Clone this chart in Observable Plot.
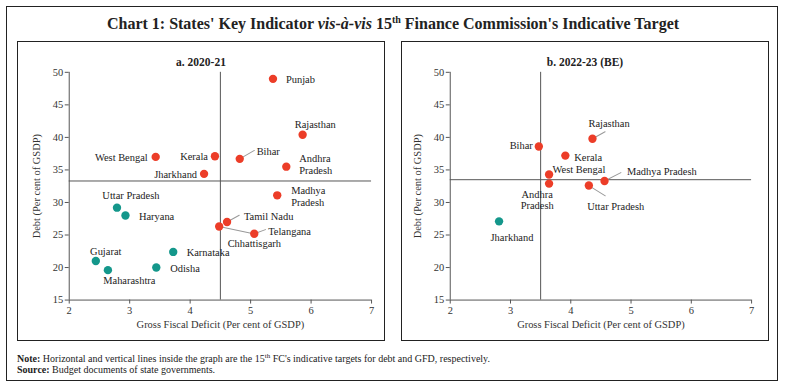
<!DOCTYPE html>
<html>
<head>
<meta charset="utf-8">
<script src="https://cdn.jsdelivr.net/npm/d3@7"></script>
<script src="https://cdn.jsdelivr.net/npm/@observablehq/plot@0.6"></script>
<style>
  html, body { margin: 0; padding: 0; background: #fff; }
  #wrap { position: relative; width: 786px; height: 389px; background: #fff; font-family: "Liberation Serif", "DejaVu Serif", serif; color: #222; overflow: hidden; }
  .outer { position: absolute; left: 6px; top: 6px; width: 770px; height: 373px; border: 1.3px solid #222; }
  .title { position: absolute; left: 0; width: 786px; top: 14px; text-align: center; font-size: 16px; font-weight: bold; color: #222; }
  .title sup { font-size: 10px; }
  .panel { position: absolute; top: 41px; width: 368px; height: 300px; box-sizing: border-box; border: 1.2px solid #222; }
  .panel svg { position: absolute; left: -1px; top: -1px; }
  .ptitle { position: absolute; left: 0; width: 100%; top: 14px; text-align: center; font-size: 11.5px; font-weight: bold; }
  .note { position: absolute; left: 17px; font-size: 10px; color: #222; }
  .note sup { font-size: 7px; }
</style>
</head>
<body>
<div id="wrap">
  <div class="outer"></div>
  <div class="title">Chart 1: States' Key Indicator <i>vis-à-vis</i> 15<sup>th</sup> Finance Commission's Indicative Target</div>
  <div class="panel" id="pa" style="left:17px"><div class="ptitle">a. 2020-21</div></div>
  <div class="panel" id="pb" style="left:401px"><div class="ptitle">b. 2022-23 (BE)</div></div>
  <div class="note" style="top:351.5px"><b>Note:</b> Horizontal and vertical lines inside the graph are the 15<sup>th</sup> FC's indicative targets for debt and GFD, respectively.</div>
  <div class="note" style="top:363.5px"><b>Source:</b> Budget documents of state governments.</div>
</div>
<script>
// ---------- DATA ----------
const statesA = ["Punjab","Rajasthan","Bihar","Andhra Pradesh","Kerala","West Bengal","Jharkhand","Madhya Pradesh","Uttar Pradesh","Haryana","Tamil Nadu","Chhattisgarh","Telangana","Gujarat","Maharashtra","Odisha","Karnataka"];
const gfdA    = [5.37, 5.86, 4.82, 5.59, 4.41, 3.43, 4.23, 5.44, 2.79, 2.93, 4.61, 4.48, 5.06, 2.44, 2.64, 3.44, 3.72];
const debtA   = [49.0, 40.4, 36.7, 35.5, 37.1, 37.0, 34.4, 31.1, 29.2, 28.0, 27.0, 26.3, 25.2, 21.0, 19.6, 20.0, 22.4];
const statusA = ["above","above","above","above","above","above","above","above","below","below","above","above","above","below","below","below","below"];

const statesB = ["Rajasthan","Bihar","Kerala","West Bengal","Andhra Pradesh","Madhya Pradesh","Uttar Pradesh","Jharkhand"];
const gfdB    = [4.36, 3.47, 3.91, 3.64, 3.64, 4.56, 4.30, 2.81];
const debtB   = [39.8, 38.6, 37.2, 34.3, 32.9, 33.3, 32.6, 27.1];
const statusB = ["above","above","above","above","above","above","above","below"];

const targetGfdA = 4.5,  targetDebtA = 33.3;
const targetGfdB = 3.5,  targetDebtB = 33.5;

const xTicks = [2, 3, 4, 5, 6, 7];
const yTicks = [15, 20, 25, 30, 35, 40, 45, 50];
const xLabel = "Gross Fiscal Deficit (Per cent of GSDP)";
const yLabel = "Debt (Per cent of GSDP)";

// ---------- LAYOUT (label placement, px) ----------
const labelsA = [
  {state:"Punjab", dx:13, dy:0, anchor:"start"},
  {state:"Rajasthan", dx:-8, dy:-11, anchor:"start"},
  {state:"Bihar", dx:17, dy:-8, anchor:"start"},
  {state:"Andhra Pradesh", text:"Andhra\nPradesh", dx:13, dy:-2.5, anchor:"start"},
  {state:"Kerala", dx:-7, dy:0.5, anchor:"end"},
  {state:"West Bengal", dx:-8, dy:0.5, anchor:"end"},
  {state:"Jharkhand", dx:-7, dy:0.5, anchor:"end"},
  {state:"Madhya Pradesh", text:"Madhya\nPradesh", dx:14, dy:1, anchor:"start"},
  {state:"Uttar Pradesh", dx:14, dy:-12.5, anchor:"middle"},
  {state:"Haryana", dx:13.5, dy:0.5, anchor:"start"},
  {state:"Tamil Nadu", dx:17, dy:-5.5, anchor:"start"},
  {state:"Chhattisgarh", dx:8.5, dy:16.5, anchor:"start"},
  {state:"Telangana", dx:14, dy:-2.5, anchor:"start"},
  {state:"Gujarat", dx:10, dy:-10, anchor:"middle"},
  {state:"Maharashtra", dx:21.5, dy:10, anchor:"middle"},
  {state:"Odisha", dx:14, dy:0.5, anchor:"start"},
  {state:"Karnataka", dx:13.5, dy:0.5, anchor:"start"}
];
const leadersA = [
  {state:"Bihar", length:17, rotate:60},
  {state:"Tamil Nadu", length:14, rotate:61},
  {state:"Telangana", length:12, rotate:70},
  {state:"Chhattisgarh", length:34, rotate:102}
];
const labelsB = [
  {state:"Rajasthan", dx:-4, dy:-15.5, anchor:"start"},
  {state:"Bihar", dx:-6, dy:-1.5, anchor:"end"},
  {state:"Kerala", dx:9, dy:2, anchor:"start"},
  {state:"West Bengal", dx:3.5, dy:-5, anchor:"start"},
  {state:"Andhra Pradesh", text:"Andhra\nPradesh", dx:-12, dy:16.5, anchor:"middle"},
  {state:"Madhya Pradesh", dx:22.5, dy:-9.5, anchor:"start"},
  {state:"Uttar Pradesh", dx:27, dy:20.5, anchor:"middle"},
  {state:"Jharkhand", dx:13, dy:16.5, anchor:"middle"}
];
const leadersB = [
  {state:"Rajasthan", length:14.5, rotate:61},
  {state:"Madhya Pradesh", length:18.5, rotate:63},
  {state:"Uttar Pradesh", length:19.5, rotate:122}
];

const colors = {domain:["above","below"], range:["#ec3d28","#14978b"]};
const lineShape = { draw(context, l) { context.moveTo(0, 0); context.lineTo(0, -l); } };

function build(states, gfd, debt, status, tg, td, labels, leaders, mL, mR) {
  const data = states.map((s, i) => ({state: s, gfd: gfd[i], debt: debt[i], status: status[i]}));
  const find = s => data.filter(d => d.state === s);
  return Plot.plot({
    width: 368, height: 300,
    marginLeft: mL, marginRight: mR, marginTop: 31, marginBottom: 40,
    style: {fontFamily: "Liberation Serif, serif", fontSize: "10.5px", color: "#333", background: "transparent"},
    x: {domain: [2, 7]},
    y: {domain: [15, 50]},
    color: colors,
    marks: [
      Plot.ruleX([tg], {stroke: "#555", strokeWidth: 1}),
      Plot.ruleY([td], {stroke: "#555", strokeWidth: 1}),
      Plot.ruleY([15], {stroke: "#555"}),
      Plot.ruleX([2], {stroke: "#555"}),
      Plot.axisX({ticks: xTicks, tickFormat: d => String(d), tickSize: 4, tickPadding: 3, stroke: "#555", label: xLabel, labelAnchor: "center", labelOffset: 28, labelArrow: "none", fontSize: 10.5}),
      Plot.axisY({ticks: yTicks, tickFormat: d => String(d), tickSize: 4, tickPadding: 2, stroke: "#555", label: yLabel, labelAnchor: "center", labelOffset: 37, labelArrow: "none", fontSize: 10.5}),
      ...leaders.map(l => Plot.vector(find(l.state), {x: "gfd", y: "debt", length: l.length, rotate: l.rotate, anchor: "start", shape: lineShape, stroke: "#999", strokeWidth: 1})),
      Plot.dot(data, {x: "gfd", y: "debt", r: 4.2, fill: "status", stroke: "none"}),
      ...labels.map(l => Plot.text(find(l.state), {x: "gfd", y: "debt", text: () => l.text ?? l.state, dx: l.dx, dy: l.dy, textAnchor: l.anchor, lineAnchor: "middle", lineHeight: 1.1, fontSize: 10.5, fill: "#222"}))
    ]
  });
}

document.getElementById("pa").appendChild(build(statesA, gfdA, debtA, statusA, targetGfdA, targetDebtA, labelsA, leadersA, 52, 12));
document.getElementById("pb").appendChild(build(statesB, gfdB, debtB, statusB, targetGfdB, targetDebtB, labelsB, leadersB, 49, 16));
</script>
</body>
</html>
